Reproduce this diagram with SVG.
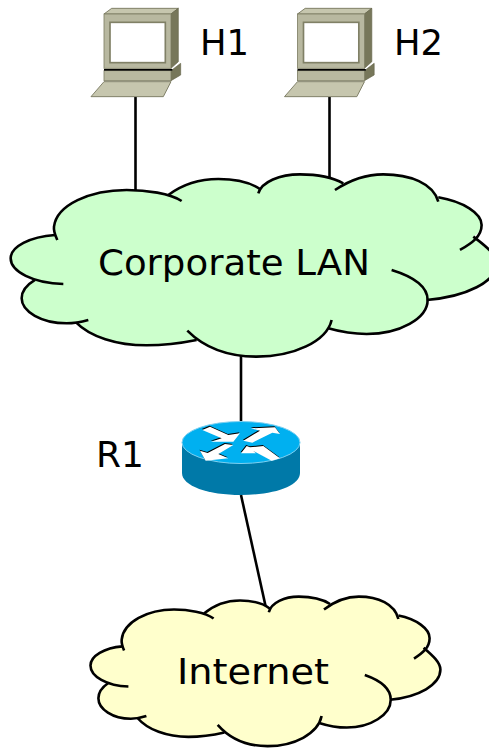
<svg xmlns="http://www.w3.org/2000/svg" width="489" height="748" viewBox="0 0 489 748">
<style>
text{font-family:"DejaVu Sans",Verdana,sans-serif;font-size:36px;fill:#000}
.lnk{fill:none;stroke:#000;stroke-width:2.6}
.cl{fill:none;stroke:#000;stroke-width:2.6;vector-effect:non-scaling-stroke;stroke-linecap:butt}
.tp{fill:#c6c6ae;stroke:#6f6f54;stroke-width:2.500}
.fr{fill:#b8b8a0;stroke:#808066;stroke-width:2.500}
.sd{fill:#77775a;stroke:#66664c;stroke-width:2}
</style>
<defs>
<g id="cloud">
<path stroke="none" d="M172 225C165 210 160 200 162 185C170 120 270 75 380 75C430 75 475 80 505 90C545 60 600 42 655 42C705 42 750 52 780 72C800 45 840 28 900 28C950 28 1000 38 1030 55C1060 38 1100 28 1150 28C1230 28 1295 50 1315 97C1390 110 1445 145 1445 180C1445 195 1435 205 1420 215C1460 245 1490 270 1490 295C1490 350 1400 395 1280 405C1270 465 1200 507 1100 507C1060 507 1020 500 985 490C950 545 880 575 770 575C690 575 630 555 590 525C540 535 490 541 440 541C350 541 270 515 228 472C220 474 210 475 200 475C125 475 65 440 65 400C65 380 80 360 105 345C60 330 32 305 32 280C32 245 90 215 165 210Z"/>
<path class="cl" d="M172 225C165 210 160 200 162 185C170 120 270 75 380 75C440 75 510 85 545 108"/>
<path class="cl" d="M505 90C545 60 600 42 655 42C705 42 750 52 780 72"/>
<path class="cl" d="M775 85C785 50 840 28 900 28C950 28 1000 38 1030 55"/>
<path class="cl" d="M1005 75C1050 45 1100 28 1150 28C1230 28 1300 55 1315 110"/>
<path class="cl" d="M1315 97C1390 110 1445 145 1445 180C1445 215 1415 235 1380 255"/>
<path class="cl" d="M1420 215C1460 245 1490 270 1490 295C1490 350 1400 395 1280 405"/>
<path class="cl" d="M1175 315C1240 335 1283 365 1283 405C1283 460 1200 507 1100 507C1060 507 1020 500 985 490"/>
<path class="cl" d="M995 465C980 530 880 575 770 575C680 575 610 545 562 497"/>
<path class="cl" d="M590 525C540 535 490 541 440 541C350 541 270 515 228 472"/>
<path class="cl" d="M265 465C240 472 220 475 200 475C125 475 65 440 65 400C65 380 80 360 105 345"/>
<path class="cl" d="M190 357C100 355 32 320 32 280C32 245 90 215 165 210"/>
</g>
<g id="pc" transform="scale(0.3333)">
<path class="tp" d="M72 42L95 25H295L273 42Z"/>
<path class="sd" d="M273 42L295 25V185L273 205Z"/>
<rect class="fr" x="72" y="42" width="201" height="163"/>
<rect x="90" y="67" width="166" height="121" fill="#fff" stroke="#808066" stroke-width="5"/>
<path class="sd" d="M273 212L302 190V225L273 242Z"/>
<rect class="fr" x="72" y="212" width="201" height="30"/>
<rect x="72" y="207" width="205" height="5" fill="#000"/>
<path class="tp" d="M72 245H273L250 290H33Z"/>
</g>
<g id="arrows">
<path d="M22 30L45 20L100 45L135 40L115 65L48 65L80 55Z"/>
<path d="M145 62L195 32L168 25L240 22L255 42L232 38L172 68Z"/>
<path d="M15 92L38 99L90 72L115 75L70 102L100 115L32 122Z"/>
<path d="M138 100L155 78L165 82L205 78L255 115L230 122L175 93L183 100Z"/>
</g>
</defs>
<g id="connectors">
<path class="lnk" d="M135.500 97V190"/>
<path class="lnk" d="M329.500 97V180"/>
<path class="lnk" d="M241 355V423"/>
<path class="lnk" d="M241 495L266 608"/>
</g>
<g id="H1"><use href="#pc" x="80" y="0"/><text x="200" y="55" textLength="49" lengthAdjust="spacingAndGlyphs">H1</text></g>
<g id="H2"><use href="#pc" x="273.500" y="0"/><text x="394" y="55" textLength="49" lengthAdjust="spacingAndGlyphs">H2</text></g>
<g id="lan">
<use href="#cloud" transform="translate(0 165) scale(.3333)" fill="#ccffcc"/>
<text x="98" y="275" textLength="272" lengthAdjust="spacingAndGlyphs">Corporate LAN</text>
</g>
<g id="R1">
<path fill="#0079a8" d="M182 444V473C182 486 208 495 241 495C274 495 300 486 300 473V444Z"/>
<ellipse cx="241" cy="442.500" rx="59" ry="21" fill="#00b0f0" stroke="#7fd0f0" stroke-width="1"/>
<use href="#arrows" transform="translate(194.500 419) scale(.3333)" fill="#000"/>
<use href="#arrows" transform="translate(195 420) scale(.3333)" fill="#fff"/>
<text x="96" y="467">R1</text>
</g>
<g id="internet">
<use href="#cloud" transform="translate(82.800 589) scale(.24 .2733)" fill="#ffffcc"/>
<text x="177" y="684" textLength="152" lengthAdjust="spacingAndGlyphs">Internet</text>
</g>
</svg>
